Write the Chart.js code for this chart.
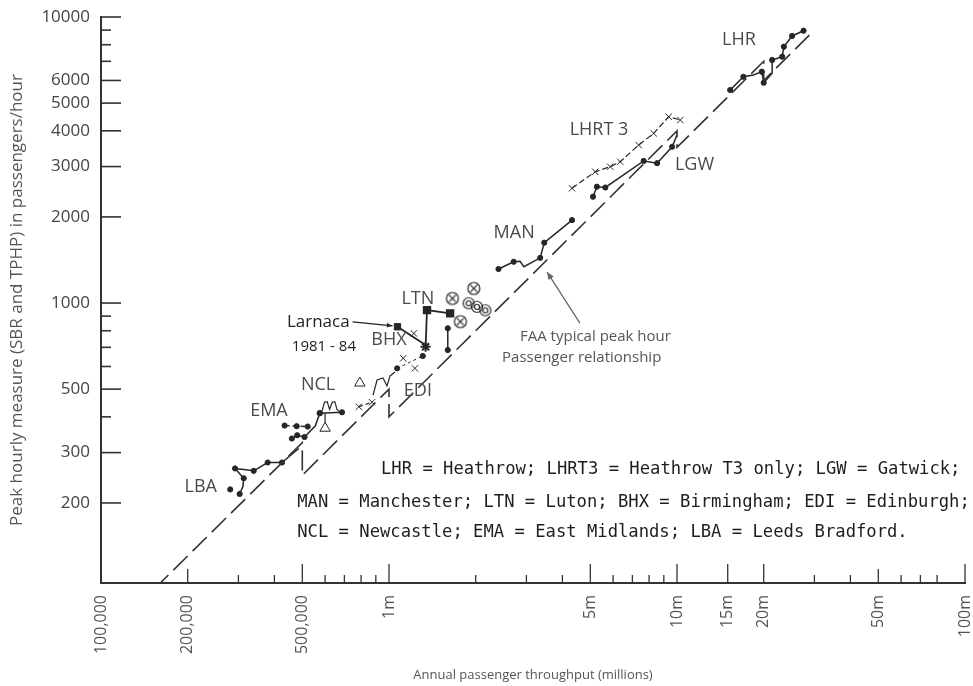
<!DOCTYPE html>
<html><head><meta charset="utf-8">
<script src="https://cdn.jsdelivr.net/npm/chart.js@4.4.0/dist/chart.umd.min.js"></script>
<style>html,body{margin:0;padding:0;background:#fff;}canvas{display:block;}</style>
</head><body>
<canvas id="c" width="973" height="686"></canvas>
<script>
// ---------- axis ticks ----------
const xTickValues = [0.1, 0.2, 0.5, 1, 5, 10, 15, 20, 50, 100];
const xTickLabels = ['100,000', '200,000', '500,000', '1m', '5m', '10m', '15m', '20m', '50m', '100m'];
const xMinorTicks = [0.3, 0.4, 0.6, 0.7, 0.8, 0.9, 2, 3, 4, 6, 7, 8, 9, 30, 40, 60, 70, 80];
const yTickValues = [200, 300, 500, 1000, 2000, 3000, 4000, 5000, 6000, 10000];
const yTickLabels = ['200', '300', '500', '1000', '2000', '3000', '4000', '5000', '6000', '10000'];
const yMinorTicks = [400, 600, 700, 800, 900, 7000, 8000, 9000];

// ---------- series (annual passengers in millions, peak hour passengers) ----------
const lbaX = [0.303, 0.311, 0.313, 0.292, 0.339, 0.379, 0.425, 0.486];
const lbaY = [215, 228, 244, 264, 259, 277, 277, 310];
const lbaSoloX = [0.281];
const lbaSoloY = [223];

const emaTopX = [0.434, 0.478, 0.522];
const emaTopY = [373, 371, 370];
const emaX = [0.460, 0.480, 0.509, 0.555, 0.575];
const emaY = [336, 345, 340, 372, 412];

const nclX = [0.575, 0.687];
const nclY = [412, 415];
const nclWiggleX = [0.585, 0.597, 0.610, 0.622, 0.635, 0.648, 0.660, 0.672];
const nclWiggleY = [418, 450, 452, 425, 450, 452, 425, 418];
const nclStemX = [0.600, 0.600];
const nclStemY = [412, 365];
const nclTriX = [0.792];
const nclTriY = [525];
const nclWiggle2X = [0.880, 0.909, 0.953, 0.984, 1.008, 1.049];
const nclWiggle2Y = [476, 538, 547, 513, 556, 574];
const nclCrossX = [0.786, 0.873];
const nclCrossY = [434, 450];

const ediX = [1.067, 1.31];
const ediY = [591, 653];
const ediCrossX = [1.12, 1.23];
const ediCrossY = [641, 591];

const larnacaX = [1.07, 1.34];
const larnacaY = [826, 713];
const bhxCrossX = [1.22];
const bhxCrossY = [783];

const ltnX = [1.34, 1.355, 1.63];
const ltnY = [703, 945, 920];
const ltn2X = [1.60, 1.60];
const ltn2Y = [816, 685];
const ltnCircCrossX = [1.66, 1.97, 1.77];
const ltnCircCrossY = [1038, 1125, 861];
const ltnRingX = [1.89, 2.02, 2.16];
const ltnRingY = [998, 970, 943];

const manX = [2.40, 2.71, 2.85, 2.94, 3.35, 3.46, 4.32];
const manY = [1315, 1394, 1400, 1340, 1439, 1626, 1950];

const lgwX = [5.11, 5.27, 5.64, 7.66, 8.53, 9.62, 10.0];
const lgwY = [2354, 2551, 2535, 3138, 3083, 3518, 3868];

const lhrt3X = [4.32, 5.20, 5.86, 6.35, 7.36, 8.30, 9.36, 10.27];
const lhrt3Y = [2518, 2877, 2997, 3119, 3567, 3920, 4480, 4363];

const lhrX = [15.3, 17.0, 18.4, 19.7, 20.0, 21.4, 21.4, 23.2, 23.5, 25.1, 27.5];
const lhrY = [5556, 6182, 6270, 6440, 5890, 6355, 7076, 7265, 7874, 8584, 8954];

// FAA typical peak hour relationship (stepped)
const faaX = [0.153, 0.5, 0.5, 1, 1, 10, 10, 20, 20, 30];
const faaY = [100, 325, 250, 500, 400, 4000, 3500, 7000, 6000, 9000];

// ---------- annotations (text) ----------
const seriesLabels = ['LHR', 'LHRT 3', 'LGW', 'MAN', 'LTN', 'BHX', 'EDI', 'NCL', 'EMA', 'LBA'];
const seriesLabelX = [16.4, 5.36, 11.5, 2.72, 1.26, 1.0, 1.26, 0.567, 0.383, 0.222];
const seriesLabelY = [8300, 4030, 3040, 1760, 1032, 743, 492, 517, 419, 228];
const keyLines = [
  'LHR = Heathrow; LHRT3 = Heathrow T3 only; LGW = Gatwick;',
  'MAN = Manchester; LTN = Luton; BHX = Birmingham; EDI = Edinburgh;',
  'NCL = Newcastle; EMA = East Midlands; LBA = Leeds Bradford.'
];
const keyX = [0.938, 0.480, 0.480];
const keyY = [261, 201, 157];
const faaNote = ['FAA typical peak hour', 'Passenger relationship'];
const faaNoteX = [2.85, 2.47];
const faaNoteY = [760, 643];
const faaArrow = {x1: 4.60, y1: 851, x2: 3.54, y2: 1283};
const larnacaNote = ['Larnaca', '1981 - 84'];
const larnacaNoteX = [0.442, 0.460];
const larnacaNoteY = [859, 701];

// ---------- helpers ----------
const INK = '#262626';
const TXT = '#4a4a4a';
const pts = (xs, ys) => xs.map((v, i) => ({x: v, y: ys[i]}));

function symbol(draw, size) {
  const c = document.createElement('canvas');
  c.width = c.height = size;
  const g = c.getContext('2d');
  g.strokeStyle = INK; g.fillStyle = INK; g.lineWidth = 1.2;
  draw(g, size / 2);
  return c;
}
const circCross = symbol((g, m) => {
  g.beginPath(); g.arc(m, m, 6, 0, Math.PI * 2); g.stroke();
  g.beginPath(); g.moveTo(m - 3.3, m - 3.3); g.lineTo(m + 3.3, m + 3.3);
  g.moveTo(m + 3.3, m - 3.3); g.lineTo(m - 3.3, m + 3.3); g.stroke();
}, 16);
const ringDot = symbol((g, m) => {
  g.beginPath(); g.arc(m, m, 5.5, 0, Math.PI * 2); g.stroke();
  g.beginPath(); g.arc(m, m, 2.5, 0, Math.PI * 2); g.stroke();
}, 16);

function ser(xs, ys, o) {
  return Object.assign({
    data: pts(xs, ys), showLine: true, borderColor: INK, backgroundColor: INK,
    borderWidth: 1.5, pointRadius: 2.6, pointHoverRadius: 0, pointBorderWidth: 1, tension: 0
  }, o || {});
}

const datasets = [
  ser(faaX, faaY, {label: 'FAA', borderDash: [20, 7], borderWidth: 1.6, pointRadius: 0, borderColor: '#333'}),
  ser(lbaX, lbaY, {label: 'LBA', pointRadius: [2.6, 0, 2.6, 2.6, 2.6, 2.6, 2.6, 0]}),
  ser(lbaSoloX, lbaSoloY, {label: 'LBA single', showLine: false}),
  ser(emaTopX, emaTopY, {label: 'EMA top', borderDash: [5, 3]}),
  ser(emaX, emaY, {label: 'EMA', pointRadius: [2.6, 2.6, 2.6, 0, 2.6]}),
  ser(nclX, nclY, {label: 'NCL'}),
  ser(nclWiggleX, nclWiggleY, {label: 'NCL trace', pointRadius: 0, borderWidth: 1.2}),
  ser(nclStemX, nclStemY, {label: 'NCL stem', pointRadius: [0, 6], pointStyle: 'triangle', backgroundColor: '#fff', borderWidth: 1.2}),
  ser(nclTriX, nclTriY, {label: 'NCL tri', showLine: false, pointRadius: 6, pointStyle: 'triangle', backgroundColor: '#fff', borderWidth: 1.2}),
  ser(nclWiggle2X, nclWiggle2Y, {label: 'NCL trace 2', pointRadius: 0, borderWidth: 1.2}),
  ser(nclCrossX, nclCrossY, {label: 'NCL cross', pointRadius: 4.5, pointStyle: 'crossRot', borderDash: [4, 3], borderWidth: 1.2}),
  ser(ediX, ediY, {label: 'EDI', borderWidth: 1, borderDash: [3, 3]}),
  ser(ediCrossX, ediCrossY, {label: 'EDI cross', showLine: false, pointRadius: 4.5, pointStyle: 'crossRot', borderWidth: 1.2}),
  ser(larnacaX, larnacaY, {label: 'Larnaca', pointRadius: [4.5, 0], pointStyle: 'rect', borderWidth: 1.8}),
  ser(bhxCrossX, bhxCrossY, {label: 'BHX cross', showLine: false, pointRadius: 4.5, pointStyle: 'crossRot', borderWidth: 1.2}),
  ser(ltnX, ltnY, {label: 'LTN', pointRadius: [5, 4.5, 4.5], pointStyle: ['star', 'rect', 'rect'], borderWidth: 1.8, pointBorderWidth: 2}),
  ser(ltn2X, ltn2Y, {label: 'LTN 2'}),
  ser(ltnCircCrossX, ltnCircCrossY, {label: 'LTN circ', showLine: false, pointStyle: circCross, pointRadius: 7}),
  ser(ltnRingX, ltnRingY, {label: 'LTN ring', showLine: false, pointStyle: ringDot, pointRadius: 7}),
  ser(manX, manY, {label: 'MAN', pointRadius: [2.6, 2.6, 0, 0, 2.6, 2.6, 2.6]}),
  ser(lgwX, lgwY, {label: 'LGW', pointRadius: [2.6, 2.6, 2.6, 2.6, 2.6, 2.6, 0]}),
  ser(lhrt3X, lhrt3Y, {label: 'LHRT3', pointStyle: 'crossRot', pointRadius: 4.5, borderDash: [6, 3], borderWidth: 1.2}),
  ser(lhrX, lhrY, {label: 'LHR', pointRadius: [2.6, 2.6, 0, 2.6, 2.6, 0, 2.6, 2.6, 2.6, 2.6, 2.6]})
];

function arrow(ctx, x1, y1, x2, y2, head) {
  ctx.beginPath(); ctx.moveTo(x1, y1); ctx.lineTo(x2, y2); ctx.stroke();
  const a = Math.atan2(y2 - y1, x2 - x1);
  ctx.beginPath();
  ctx.moveTo(x2, y2);
  ctx.lineTo(x2 - head * Math.cos(a - 0.4), y2 - head * Math.sin(a - 0.4));
  ctx.lineTo(x2 - head * Math.cos(a + 0.4), y2 - head * Math.sin(a + 0.4));
  ctx.closePath(); ctx.fill();
}

const decor = {
  id: 'decor',
  afterDraw(chart) {
    const {ctx, scales: {x, y}} = chart;
    const ax = x.left, ay = y.bottom;
    ctx.save();
    ctx.strokeStyle = '#333'; ctx.lineWidth = 1.6;
    // y ticks (inside)
    yTickValues.forEach(v => { const p = y.getPixelForValue(v); ctx.beginPath(); ctx.moveTo(ax, p); ctx.lineTo(ax + 20, p); ctx.stroke(); });
    yMinorTicks.forEach(v => { const p = y.getPixelForValue(v); ctx.beginPath(); ctx.moveTo(ax, p); ctx.lineTo(ax + 10, p); ctx.stroke(); });
    // x ticks (inside)
    ctx.lineWidth = 1.3;
    xTickValues.forEach((v, i) => { if (i === 0) return; const p = x.getPixelForValue(v); ctx.beginPath(); ctx.moveTo(p, ay); ctx.lineTo(p, ay - (v === 0.2 || v === 50 ? 14 : 19)); ctx.stroke(); });
    xMinorTicks.forEach(v => { const p = x.getPixelForValue(v); ctx.beginPath(); ctx.moveTo(p, ay); ctx.lineTo(p, ay - 8); ctx.stroke(); });

    // series labels
    ctx.fillStyle = TXT;
    ctx.font = '18px "Open Sans"';
    ctx.textAlign = 'center'; ctx.textBaseline = 'middle';
    seriesLabels.forEach((t, i) => ctx.fillText(t, x.getPixelForValue(seriesLabelX[i]), y.getPixelForValue(seriesLabelY[i])));

    // Larnaca note
    ctx.fillStyle = '#222';
    ctx.textAlign = 'left';
    ctx.font = '17px "Open Sans"';
    ctx.fillText(larnacaNote[0], x.getPixelForValue(larnacaNoteX[0]), y.getPixelForValue(larnacaNoteY[0]));
    const lw = ctx.measureText(larnacaNote[0]).width;
    ctx.font = '15px "Open Sans"';
    ctx.fillText(larnacaNote[1], x.getPixelForValue(larnacaNoteX[1]), y.getPixelForValue(larnacaNoteY[1]));
    ctx.strokeStyle = '#222'; ctx.fillStyle = '#222'; ctx.lineWidth = 1.3;
    const lx = x.getPixelForValue(larnacaNoteX[0]) + lw + 3, ly = y.getPixelForValue(larnacaNoteY[0]);
    arrow(ctx, lx, ly, x.getPixelForValue(larnacaX[0]) - 5, y.getPixelForValue(larnacaY[0]) - 1, 6);

    // FAA note
    ctx.fillStyle = '#555';
    ctx.font = '15px "Open Sans"';
    faaNote.forEach((t, i) => ctx.fillText(t, x.getPixelForValue(faaNoteX[i]), y.getPixelForValue(faaNoteY[i])));
    ctx.strokeStyle = '#666'; ctx.fillStyle = '#666'; ctx.lineWidth = 1.3;
    arrow(ctx, x.getPixelForValue(faaArrow.x1), y.getPixelForValue(faaArrow.y1), x.getPixelForValue(faaArrow.x2), y.getPixelForValue(faaArrow.y2), 8);

    // key
    ctx.fillStyle = '#1e1e1e';
    ctx.font = '17.2px "DejaVu Sans Mono"';
    keyLines.forEach((t, i) => ctx.fillText(t, x.getPixelForValue(keyX[i]), y.getPixelForValue(keyY[i])));
    ctx.restore();
  }
};

new Chart(document.getElementById('c'), {
  type: 'scatter',
  data: {datasets},
  plugins: [decor],
  options: {
    responsive: false, animation: false, devicePixelRatio: 1,
    layout: {padding: {top: 17, right: 5, left: 0, bottom: 0}},
    plugins: {legend: {display: false}, tooltip: {enabled: false}},
    scales: {
      x: {
        type: 'logarithmic', min: 0.1, max: 100,
        afterBuildTicks: s => { s.ticks = xTickValues.map(v => ({value: v})); },
        afterFit: s => { s.height = 103; s.paddingLeft = 0; s.paddingRight = 0; },
        ticks: {autoSkip: false, maxRotation: 90, minRotation: 90, padding: 12, color: '#555',
          font: {family: 'Open Sans', size: 16},
          callback: (v, i) => xTickLabels[i]},
        grid: {display: false, drawTicks: false},
        border: {display: true, color: '#333', width: 2},
        title: {display: true, text: 'Annual passenger throughput (millions)', color: '#555',
          font: {family: 'Open Sans', size: 13}, padding: {top: 0, bottom: 3}}
      },
      y: {
        type: 'logarithmic', min: 105, max: 10000,
        afterBuildTicks: s => { s.ticks = yTickValues.map(v => ({value: v})); },
        afterFit: s => { s.width = 101; s.paddingTop = 0; s.paddingBottom = 0; },
        ticks: {autoSkip: false, padding: 11, color: '#444',
          font: {family: 'Open Sans', size: 17},
          callback: (v, i) => yTickLabels[i]},
        grid: {display: false, drawTicks: false},
        border: {display: true, color: '#333', width: 2},
        title: {display: true, text: 'Peak hourly measure (SBR and TPHP) in passengers/hour', color: '#555',
          font: {family: 'Open Sans', size: 17}, padding: {top: 7, bottom: 0}}
      }
    }
  }
});
</script>
</body></html>
